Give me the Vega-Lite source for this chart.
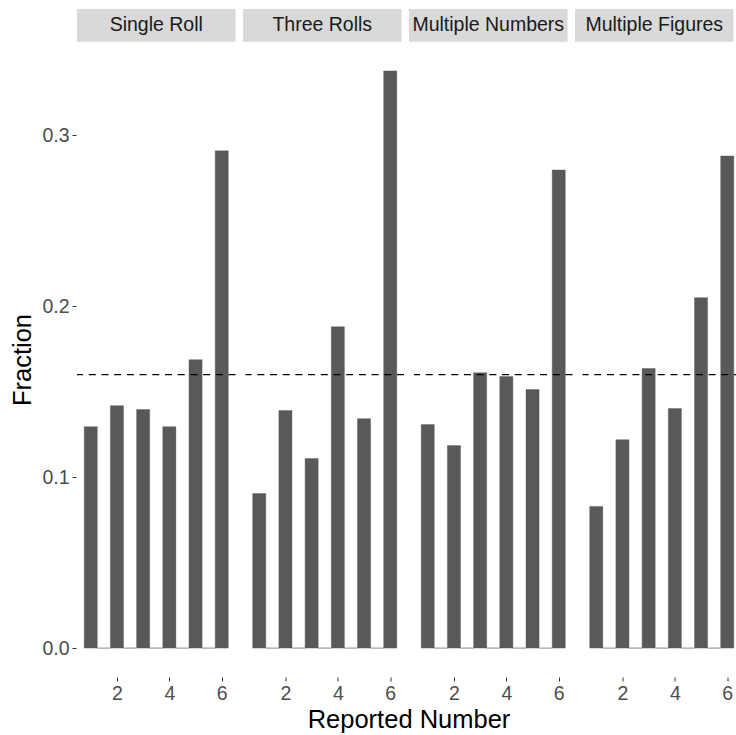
{
  "$schema": "https://vega.github.io/schema/vega-lite/v6.json",
  "background": "white",
  "padding": {"left": 10, "top": 9, "right": 0, "bottom": 0},
  "config": {
    "view": {"stroke": null},
    "font": "Liberation Sans",
    "axis": {
      "grid": false,
      "domain": false,
      "labelFont": "Liberation Sans",
      "labelFontSize": 19.5,
      "labelColor": "#4D4D4D",
      "tickColor": "#333333",
      "tickSize": 4,
      "tickWidth": 1,
      "labelPadding": 3,
      "titleFont": "Liberation Sans",
      "titleFontSize": 25.5,
      "titleFontWeight": "normal",
      "titleColor": "#000000"
    }
  },
  "datasets": {
    "strips": [
      {"panel": "Single Roll"},
      {"panel": "Three Rolls"},
      {"panel": "Multiple Numbers"},
      {"panel": "Multiple Figures"}
    ],
    "bins": [
      {"panel": "Single Roll", "number": 1, "fraction": 0.1296},
      {"panel": "Single Roll", "number": 1.5, "fraction": 0},
      {"panel": "Single Roll", "number": 2, "fraction": 0.1419},
      {"panel": "Single Roll", "number": 2.5, "fraction": 0},
      {"panel": "Single Roll", "number": 3, "fraction": 0.1396},
      {"panel": "Single Roll", "number": 3.5, "fraction": 0},
      {"panel": "Single Roll", "number": 4, "fraction": 0.1296},
      {"panel": "Single Roll", "number": 4.5, "fraction": 0},
      {"panel": "Single Roll", "number": 5, "fraction": 0.1688},
      {"panel": "Single Roll", "number": 5.5, "fraction": 0},
      {"panel": "Single Roll", "number": 6, "fraction": 0.291},
      {"panel": "Three Rolls", "number": 1, "fraction": 0.0905},
      {"panel": "Three Rolls", "number": 1.5, "fraction": 0},
      {"panel": "Three Rolls", "number": 2, "fraction": 0.139},
      {"panel": "Three Rolls", "number": 2.5, "fraction": 0},
      {"panel": "Three Rolls", "number": 3, "fraction": 0.1109},
      {"panel": "Three Rolls", "number": 3.5, "fraction": 0},
      {"panel": "Three Rolls", "number": 4, "fraction": 0.1881},
      {"panel": "Three Rolls", "number": 4.5, "fraction": 0},
      {"panel": "Three Rolls", "number": 5, "fraction": 0.1343},
      {"panel": "Three Rolls", "number": 5.5, "fraction": 0},
      {"panel": "Three Rolls", "number": 6, "fraction": 0.3378},
      {"panel": "Multiple Numbers", "number": 1, "fraction": 0.1308},
      {"panel": "Multiple Numbers", "number": 1.5, "fraction": 0},
      {"panel": "Multiple Numbers", "number": 2, "fraction": 0.1185},
      {"panel": "Multiple Numbers", "number": 2.5, "fraction": 0},
      {"panel": "Multiple Numbers", "number": 3, "fraction": 0.1612},
      {"panel": "Multiple Numbers", "number": 3.5, "fraction": 0},
      {"panel": "Multiple Numbers", "number": 4, "fraction": 0.1589},
      {"panel": "Multiple Numbers", "number": 4.5, "fraction": 0},
      {"panel": "Multiple Numbers", "number": 5, "fraction": 0.1513},
      {"panel": "Multiple Numbers", "number": 5.5, "fraction": 0},
      {"panel": "Multiple Numbers", "number": 6, "fraction": 0.2798},
      {"panel": "Multiple Figures", "number": 1, "fraction": 0.0829},
      {"panel": "Multiple Figures", "number": 1.5, "fraction": 0},
      {"panel": "Multiple Figures", "number": 2, "fraction": 0.122},
      {"panel": "Multiple Figures", "number": 2.5, "fraction": 0},
      {"panel": "Multiple Figures", "number": 3, "fraction": 0.1636},
      {"panel": "Multiple Figures", "number": 3.5, "fraction": 0},
      {"panel": "Multiple Figures", "number": 4, "fraction": 0.1402},
      {"panel": "Multiple Figures", "number": 4.5, "fraction": 0},
      {"panel": "Multiple Figures", "number": 5, "fraction": 0.2051},
      {"panel": "Multiple Figures", "number": 5.5, "fraction": 0},
      {"panel": "Multiple Figures", "number": 6, "fraction": 0.288}
    ]
  },
  "bounds": "flush",
  "spacing": 0,
  "vconcat": [
    {
      "data": {"name": "strips"},
      "width": 656.5,
      "height": 32.7,
      "encoding": {
        "x": {
          "field": "panel",
          "type": "nominal",
          "sort": ["Single Roll", "Three Rolls", "Multiple Numbers", "Multiple Figures"],
          "scale": {"paddingInner": 0.0452, "paddingOuter": 0},
          "axis": null
        }
      },
      "layer": [
        {
          "mark": {"type": "rect", "fill": "#D9D9D9"},
          "encoding": {
            "y": {"value": 0},
            "y2": {"value": "height"}
          }
        },
        {
          "mark": {"type": "text", "font": "Liberation Sans", "fontSize": 19.5, "color": "#1A1A1A", "align": "center", "baseline": "middle"},
          "encoding": {"text": {"field": "panel", "type": "nominal"}}
        }
      ]
    },
    {
      "data": {"name": "bins"},
      "facet": {
        "column": {
          "field": "panel",
          "type": "nominal",
          "sort": ["Single Roll", "Three Rolls", "Multiple Numbers", "Multiple Figures"],
          "title": "Reported Number",
          "header": {
            "labels": false,
            "titleOrient": "bottom",
            "titleFont": "Liberation Sans",
            "titleFontSize": 25.5,
            "titleFontWeight": "normal",
            "titleColor": "#000000",
            "titlePadding": -5.5
          }
        }
      },
      "spacing": 7.5,
      "spec": {
        "width": 158.5,
        "height": 635,
        "layer": [
          {
            "mark": {"type": "bar", "width": 13.1, "fill": "#595959", "stroke": "#595959", "strokeWidth": 0.4},
            "encoding": {
              "x": {
                "field": "number",
                "type": "quantitative",
                "scale": {"domain": [0.475, 6.525], "nice": false, "zero": false, "padding": 0},
                "axis": {"values": [2, 4, 6], "title": null}
              },
              "y": {
                "field": "fraction",
                "type": "quantitative",
                "scale": {"domain": [-0.0169, 0.3547], "nice": false, "zero": false},
                "axis": {"values": [0, 0.1, 0.2, 0.3], "format": ".1f", "title": "Fraction", "titlePadding": 6}
              },
              "y2": {"datum": 0}
            }
          },
          {
            "transform": [{"aggregate": [{"op": "count", "as": "n"}], "groupby": ["panel"]}],
            "mark": {"type": "rule", "color": "#000000", "strokeWidth": 1.3, "strokeDash": [7, 5.7]},
            "encoding": {"y": {"datum": 0.16, "type": "quantitative"}}
          }
        ]
      }
    }
  ]
}
